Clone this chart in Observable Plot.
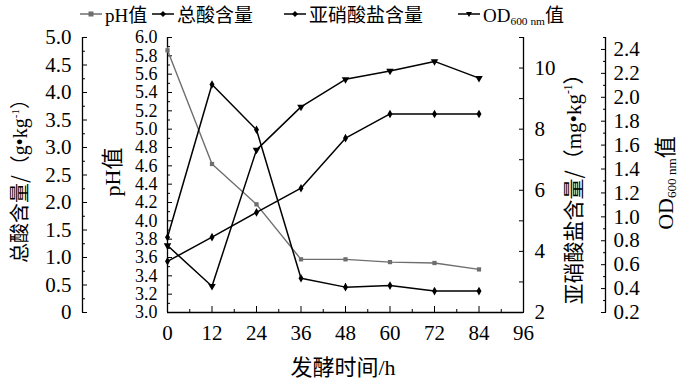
<!DOCTYPE html>
<html><head><meta charset="utf-8">
<script src="https://cdn.jsdelivr.net/npm/d3@7"></script>
<script src="https://cdn.jsdelivr.net/npm/@observablehq/plot@0.6"></script>
<style>
body{margin:0;background:#fff;}
#wrap{position:relative;width:683px;height:381px;font-family:"Liberation Serif","Noto Sans CJK SC",serif;color:#000;}
#wrap svg.plot{position:absolute;left:0;top:0;}
.lab{position:absolute;white-space:nowrap;line-height:1;}
.rot{transform:translate(-50%,-50%) rotate(-90deg);}
.ctr{transform:translate(-50%,-50%);}
.cjk{font-family:"Noto Sans CJK SC",sans-serif;}
sup{font-size:0.55em;vertical-align:0.7em;line-height:0;}
sub{font-size:0.6em;vertical-align:-0.3em;line-height:0;}
.leg{position:absolute;top:0px;display:flex;align-items:center;white-space:nowrap;font-size:19px;}
.leg svg{margin-right:3px;flex:none;}
</style></head><body><div id="wrap"></div>
<script>
// ---- data ----
const hours = [0, 12, 24, 36, 48, 60, 72, 84];
const pH = [5.86, 4.62, 4.18, 3.58, 3.58, 3.55, 3.54, 3.47];
const pHErr = [0.03, 0, 0, 0, 0, 0, 0, 0.01];
const acid = [0.93, 1.37, 1.82, 2.26, 3.17, 3.61, 3.61, 3.61];
const nitrite = [4.46, 9.46, 7.98, 3.12, 2.83, 2.88, 2.70, 2.70];
const nitriteErr = [0, 0, 0, 0, 0.12, 0, 0, 0];
const od = [0.76, 0.42, 1.56, 1.92, 2.15, 2.22, 2.30, 2.16];

// ---- ticks ----
const xTicks = [0, 12, 24, 36, 48, 60, 72, 84, 96];
const xMinor = [6, 18, 30, 42, 54, 66, 78, 90];
const acidTicks = [0, 0.5, 1, 1.5, 2, 2.5, 3, 3.5, 4, 4.5, 5];
const acidMinor = [0.25, 0.75, 1.25, 1.75, 2.25, 2.75, 3.25, 3.75, 4.25, 4.75];
const pHTicks = [3.0, 3.2, 3.4, 3.6, 3.8, 4.0, 4.2, 4.4, 4.6, 4.8, 5.0, 5.2, 5.4, 5.6, 5.8, 6.0];
const pHMinor = [3.1, 3.3, 3.5, 3.7, 3.9, 4.1, 4.3, 4.5, 4.7, 4.9, 5.1, 5.3, 5.5, 5.7, 5.9];
const nTicks = [2, 4, 6, 8, 10];
const nMinor = [3, 5, 7, 9, 11];
const odTicks = [0.2, 0.4, 0.6, 0.8, 1.0, 1.2, 1.4, 1.6, 1.8, 2.0, 2.2, 2.4];
const odMinor = [0.3, 0.5, 0.7, 0.9, 1.1, 1.3, 1.5, 1.7, 1.9, 2.1, 2.3, 2.5];

const rows = hours.map((h, i) => ({h, pH: pH[i], pHErr: pHErr[i], acid: acid[i], nitrite: nitrite[i], nErr: nitriteErr[i], od: od[i]}));

const W = 683, H = 381, MT = 37, MB = 69;
const FONT = '"Liberation Serif","Times New Roman",serif';
const wrap = document.getElementById("wrap");
const style = {fontFamily: FONT, fontSize: "21px", background: "transparent", overflow: "visible", color: "#000"};
function add(p){ p.classList.add("plot"); p.style.position="absolute"; p.style.left="0"; p.style.top="0"; wrap.appendChild(p); }
const main = {width: W, height: H, marginTop: MT, marginBottom: MB, marginLeft: 167, marginRight: 160, style};
const noTxt = () => "";

// total acid axis (far left)
add(Plot.plot({width: W, height: H, marginTop: MT, marginBottom: MB, marginLeft: 82, marginRight: 500, style,
  x: {domain: [0, 1], axis: null}, y: {domain: [0, 5]},
  marks: [
    Plot.ruleX([0], {strokeWidth: 1.3}),
    Plot.axisY(acidTicks, {anchor: "left", tickSize: -5, tickPadding: 16, fontSize: 21, tickFormat: d => d === 0 ? "0" : d.toFixed(1), label: null}),
    Plot.axisY(acidMinor, {anchor: "left", tickSize: -3, tickFormat: noTxt, label: null})
  ]}));

// pH plot + x axis + frame
add(Plot.plot({...main, x: {domain: [0, 96]}, y: {domain: [3, 6]},
  marks: [
    Plot.ruleX([0, 96], {strokeWidth: 1.3}),
    Plot.ruleY([3], {strokeWidth: 1.3}),
    Plot.axisX(xTicks, {anchor: "bottom", tickSize: -6, tickPadding: 19, tickFormat: d => String(d), label: null}),
    Plot.axisX(xMinor, {anchor: "bottom", tickSize: -3, tickFormat: noTxt, label: null}),
    Plot.axisY(pHTicks, {anchor: "left", tickSize: -5, tickPadding: 15, fontSize: 18, tickFormat: d => d.toFixed(1), label: null}),
    Plot.axisY(pHMinor, {anchor: "left", tickSize: -3, tickFormat: noTxt, label: null}),
    Plot.line(rows, {x: "h", y: "pH", stroke: "#6e6e6e", strokeWidth: 1.4}),
    Plot.ruleX(rows.filter(d => d.pHErr > 0), {x: "h", y1: d => d.pH - d.pHErr, y2: d => d.pH + d.pHErr, stroke: "#6e6e6e"}),
    Plot.dot(rows, {x: "h", y: "pH", symbol: "square", r: 2.4, fill: "#6e6e6e"})
  ]}));

// total acid line
add(Plot.plot({...main, x: {domain: [0, 96], axis: null}, y: {domain: [0, 5], axis: null},
  marks: [
    Plot.line(rows, {x: "h", y: "acid", stroke: "#000", strokeWidth: 1.5}),
    Plot.dot(rows, {x: "h", y: "acid", symbol: "diamond", r: 2.6, fill: "#000"})
  ]}));

// nitrite line + right axis
add(Plot.plot({...main, x: {domain: [0, 96], axis: null}, y: {domain: [2, 11]},
  marks: [
    Plot.axisY(nTicks, {anchor: "right", tickSize: -5, tickPadding: 16, tickFormat: d => String(d), label: null}),
    Plot.axisY(nMinor, {anchor: "right", tickSize: -5, tickFormat: noTxt, label: null}),
    Plot.line(rows, {x: "h", y: "nitrite", stroke: "#000", strokeWidth: 1.5}),
    Plot.ruleX(rows.filter(d => d.nErr > 0), {x: "h", y1: d => d.nitrite - d.nErr, y2: d => d.nitrite + d.nErr, stroke: "#000"}),
    Plot.dot(rows, {x: "h", y: "nitrite", symbol: "diamond", r: 2.6, fill: "#000"})
  ]}));

// OD line
add(Plot.plot({...main, x: {domain: [0, 96], axis: null}, y: {domain: [0.2, 2.5], axis: null},
  marks: [
    Plot.line(rows, {x: "h", y: "od", stroke: "#000", strokeWidth: 1.5}),
    Plot.dot(rows, {x: "h", y: "od", symbol: "triangle", rotate: 180, r: 2.8, fill: "#000"})
  ]}));

// OD axis (far right)
add(Plot.plot({width: W, height: H, marginTop: MT, marginBottom: MB, marginLeft: 500, marginRight: 78, style,
  x: {domain: [0, 1], axis: null}, y: {domain: [0.2, 2.5]},
  marks: [
    Plot.ruleX([1], {strokeWidth: 1.3}),
    Plot.axisY(odTicks, {anchor: "right", tickSize: -5, tickPadding: 13, tickFormat: d => d.toFixed(1), label: null}),
    Plot.axisY(odMinor, {anchor: "right", tickSize: -3, tickFormat: noTxt, label: null})
  ]}));

// ---- titles ----
const html = `
<div class="lab rot" style="left:19px;top:176px;font-size:20px;"><span class="cjk">总酸含量/（</span>g•kg<sup>-1</sup><span class="cjk">）</span></div>
<div class="lab rot" style="left:111px;top:172px;font-size:22px;">pH<span class="cjk">值</span></div>
<div class="lab rot" style="left:573px;top:184px;font-size:21px;"><span class="cjk">亚硝酸盐含量/（</span>mg•kg<sup>-1</sup><span class="cjk">）</span></div>
<div class="lab rot" style="left:664px;top:183px;font-size:22px;">OD<sub>600 nm</sub><span class="cjk">值</span></div>
<div class="lab ctr" style="left:343px;top:366px;font-size:22px;"><span class="cjk">发酵时间</span>/h</div>
`;
wrap.insertAdjacentHTML("beforeend", html);

function sym(kind, color){
  let m = "";
  if (kind === "square") m = `<rect x="8.5" y="4.5" width="5" height="5" fill="${color}"/>`;
  else if (kind === "diamond") m = `<path d="M11,4 L14,7 L11,10 L8,7Z" fill="${color}"/>`;
  else m = `<path d="M8,5 L14,5 L11,10Z" fill="${color}"/>`;
  return `<svg width="22" height="14" viewBox="0 0 22 14"><line x1="0" y1="7" x2="22" y2="7" stroke="${color}" stroke-width="1.5"/>${m}</svg>`;
}
const legendItems = [
  {left: 80, kind: "square", color: "#6e6e6e", label: `pH<span class="cjk">值</span>`},
  {left: 152, kind: "diamond", color: "#000", label: `<span class="cjk">总酸含量</span>`},
  {left: 284, kind: "diamond", color: "#000", label: `<span class="cjk">亚硝酸盐含量</span>`},
  {left: 458, kind: "tri", color: "#000", label: `OD<sub>600 nm</sub><span class="cjk">值</span>`}
];
legendItems.forEach(it => {
  wrap.insertAdjacentHTML("beforeend", `<div class="leg" style="left:${it.left}px">${sym(it.kind, it.color)}<span>${it.label}</span></div>`);
});
</script></body></html>
